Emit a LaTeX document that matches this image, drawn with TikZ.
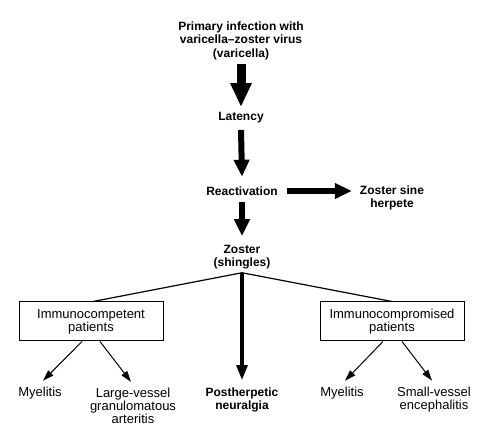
\documentclass[tikz,border=0pt]{standalone}
\usepackage{fontspec}
\setmainfont{Liberation Sans}
\usetikzlibrary{arrows.meta,calc}
\begin{document}
\begin{tikzpicture}[x=1pt,y=-1pt,
 txt/.style={inner sep=0pt, align=center, font=\fontsize{13}{13.2}\selectfont},
 btxt/.style={inner sep=0pt, align=center, font=\fontsize{12}{13.5}\selectfont\bfseries},
 pbox/.style={txt, draw, line width=1pt, minimum width=144pt, minimum height=39pt},
 bigA/.style={line width=9pt, -{Triangle[width=20pt,length=24pt]}},
 medA/.style={line width=6pt, -{Triangle[width=15pt,length=17pt]}},
 phA/.style={line width=3.3pt, -{Triangle[width=11pt,length=15pt]}},
 thinA/.style={line width=1pt, -{Triangle[width=7pt,length=11pt]}},
 spread/.style={line width=1.2pt}]
\useasboundingbox (0,0) rectangle (488,443);
\node[btxt] (prim) at (241,40.5) {Primary infection with\\varicella--zoster virus\\(varicella)};
\node[btxt] (lat) at (241,118) {Latency};
\node[btxt] (react) at (242,191) {Reactivation};
\node[btxt] (zsh) at (392,198) {Zoster sine\\herpete};
\node[btxt] (zos) at (242,257) {Zoster\\(shingles)};
\node[pbox] (boxL) at (91,321.5) {Immunocompetent\\patients};
\node[pbox] (boxR) at (392,321.5) {Immunocompromised\\patients};
\node[txt] (myL) at (40,393) {Myelitis};
\node[txt] (lvga) at (133,406) {Large-vessel\\granulomatous\\arteritis};
\node[btxt] (phn) at (242,400) {Postherpetic\\neuralgia};
\node[txt] (myR) at (342,393) {Myelitis};
\node[txt] (sve) at (434,399.5) {Small-vessel\\encephalitis};

\draw[bigA] ([yshift=-4.4pt]prim.south) -- ([yshift=5.4pt]lat.north);
\draw[medA] ([yshift=-6.4pt]lat.south) -- ([yshift=9.7pt]react.north);
\draw[medA] ([xshift=9pt]react.east) -- ($(zsh.west |- react.east)+(-8,0)$);
\draw[medA] ([yshift=-6.7pt]react.south) -- ([yshift=8.5pt]zos.north);
\draw[spread] ([yshift=-3.4pt]zos.south) -- ([xshift=2pt]boxL.north);
\draw[spread] ([yshift=-3.4pt]zos.south) -- (boxR.north);
\draw[phA] ([yshift=-3.4pt]zos.south) -- ([yshift=7.4pt]phn.north);
\draw[thinA] ([xshift=-9pt]boxL.south) -- ([xshift=3pt,yshift=6pt]myL.north);
\draw[thinA] ([xshift=9pt]boxL.south) -- ([xshift=-2pt,yshift=6pt]lvga.north);
\draw[thinA] ([xshift=-9pt]boxR.south) -- ([xshift=3pt,yshift=6pt]myR.north);
\draw[thinA] ([xshift=10pt]boxR.south) -- ([xshift=-2pt,yshift=6pt]sve.north);
\end{tikzpicture}
\end{document}
